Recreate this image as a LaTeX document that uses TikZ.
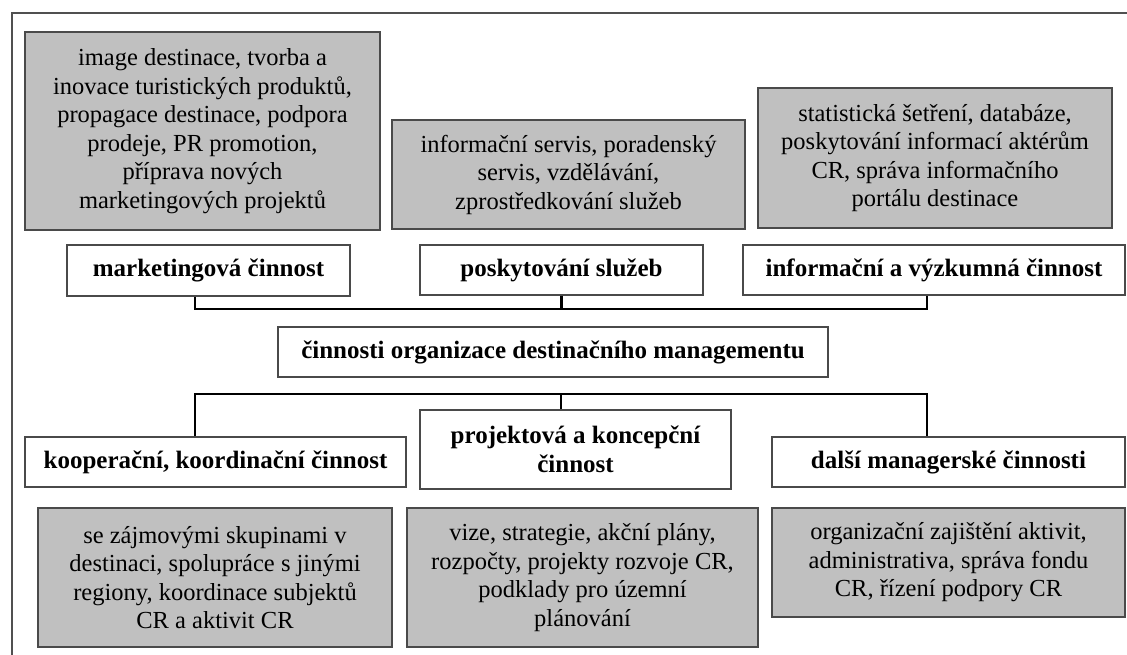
\documentclass[tikz,border=0pt]{standalone}
\usepackage{fontspec}
\setmainfont{Liberation Serif}
\definecolor{boxgray}{HTML}{C0C0C0}
\definecolor{boxline}{HTML}{4A4A4A}
\definecolor{frameline}{HTML}{505050}
\begin{document}
\begin{tikzpicture}[x=1pt,y=-1pt,
  graybox/.style={draw=boxline, line width=1.8pt, fill=boxgray, align=center, inner sep=0pt,
    font=\fontsize{24.5}{28.5}\selectfont},
  whitebox/.style={draw=boxline, line width=1.8pt, fill=white, align=center, inner sep=0pt,
    font=\fontsize{25}{28.5}\selectfont\bfseries},
  conn/.style={line width=2.4pt, draw=black},
  frame/.style={line width=2pt, draw=frameline}]
\useasboundingbox (0,0) rectangle (1127,655);
% frame
\coordinate (fbl) at (12,655);
\coordinate (ftl) at (12,13);
\coordinate (ftr) at (1127,13);
\draw[frame] (fbl) -- (ftl) -- (ftr);
% top detail boxes
\node[graybox, minimum width=355pt, minimum height=198pt] (g1) at (202.5,131)
  {image destinace, tvorba a\\inovace turistických produktů,\\propagace destinace, podpora\\prodeje, PR promotion,\\příprava nových\\marketingových projektů};
\node[graybox, minimum width=353pt, minimum height=109pt] (g2) at (568.5,174.5)
  {informační servis, poradenský\\servis, vzdělávání,\\zprostředkování služeb};
\node[graybox, minimum width=354pt, minimum height=140pt] (g3) at (935,158)
  {statistická šetření, databáze,\\poskytování informací aktérům\\CR, správa informačního\\portálu destinace};
% top category boxes
\node[whitebox, minimum width=283pt, minimum height=51pt] (m) at (208.5,270.5) {marketingová činnost};
\node[whitebox, minimum width=283pt, minimum height=50pt] (p) at (561.5,270) {poskytování služeb};
\node[whitebox, minimum width=382pt, minimum height=50pt] (i) at (934,270) {informační a výzkumná činnost};
% central box
\node[whitebox, minimum width=550pt, minimum height=50pt] (c) at (553,352) {činnosti organizace destinačního managementu};
% bottom category boxes
\node[whitebox, minimum width=381pt, minimum height=50pt] (k) at (215.5,462) {kooperační, koordinační činnost};
\node[whitebox, minimum width=311pt, minimum height=79pt] (pk) at (575.5,449.5) {projektová a koncepční\\činnost};
\node[whitebox, minimum width=353pt, minimum height=50pt] (d) at (948.5,462) {další managerské činnosti};
% bottom detail boxes
\node[graybox, minimum width=354pt, minimum height=139pt] (b1) at (215,577.5)
  {se zájmovými skupinami v\\destinaci, spolupráce s jinými\\regiony, koordinace subjektů\\CR a aktivit CR};
\node[graybox, minimum width=351pt, minimum height=139pt] (b2) at (582.5,577.5)
  {vize, strategie, akční plány,\\rozpočty, projekty rozvoje CR,\\podklady pro územní\\plánování};
\node[graybox, minimum width=353pt, minimum height=109pt] (b3) at (948.5,562.5)
  {organizační zajištění aktivit,\\administrativa, správa fondu\\CR, řízení podpory CR};
% connectors
\coordinate (topbus) at (561.5,309);
\coordinate (botbus) at (561,394);
\draw[conn] ([xshift=-13.5pt]m.south) |- (topbus) -| ([xshift=-7pt]i.south);
\draw[conn] (p.south) -- (topbus);
\draw[conn] ([xshift=-20.5pt]k.north) |- (botbus) -| ([xshift=-21.5pt]d.north);
\draw[conn] ([xshift=-14.5pt]pk.north) -- (botbus);
\end{tikzpicture}
\end{document}
